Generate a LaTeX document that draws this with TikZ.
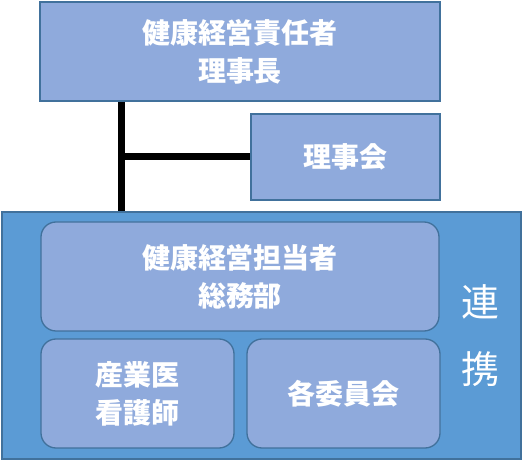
\documentclass[tikz,border=0pt]{standalone}
\usepackage{fontspec}
\setmainfont{Noto Sans CJK JP}
\usepackage{tikz}
\usetikzlibrary{positioning,calc}
\definecolor{orgFill}{RGB}{143,170,220}
\definecolor{orgFrame}{RGB}{91,155,213}
\definecolor{orgEdge}{RGB}{65,113,156}
\tikzset{
  box/.style={draw=orgEdge, fill=orgFill, line width=2pt, align=center,
              text=white, font=\bfseries\fontsize{28}{38}\selectfont, inner sep=0pt},
  roundbox/.style={box, rounded corners=15pt, line width=1.3pt},
  framebox/.style={draw=orgEdge, fill=orgFrame, line width=2pt, inner sep=0pt},
  link/.style={line width=7pt, draw=black}
}
\begin{document}
\begin{tikzpicture}[x=1pt, y=-1pt]
\useasboundingbox (0,0) rectangle (523,462);
\node[box, minimum width=400pt, minimum height=99pt] (chief) at (240,51.5) {健康経営責任者\\理事長};
\node[box, minimum width=189pt, minimum height=86pt] (board) at (345.5,157) {理事会};
\node[framebox, minimum width=519pt, minimum height=247pt] (frame) at (261.5,335.5) {};
\node[roundbox, minimum width=398pt, minimum height=109pt] (staff) at (240,276.5) {健康経営担当者\\総務部};
\node[roundbox, minimum width=193pt, minimum height=109pt] (doctor) at (137.5,393.5) {産業医\\看護師};
\node[roundbox, minimum width=193pt, minimum height=109pt] (committee) at (343.5,393.5) {各委員会};
\node[text=white, align=center, font=\fontsize{38}{67}\selectfont] (coop) at (480,336) {連\\携};
% connectors
\coordinate (trunk) at (121,0);
\draw[link] (chief.south -| trunk) -- (frame.north -| trunk);
\draw[link] (board.west -| trunk) -- (board.west);
\end{tikzpicture}
\end{document}
